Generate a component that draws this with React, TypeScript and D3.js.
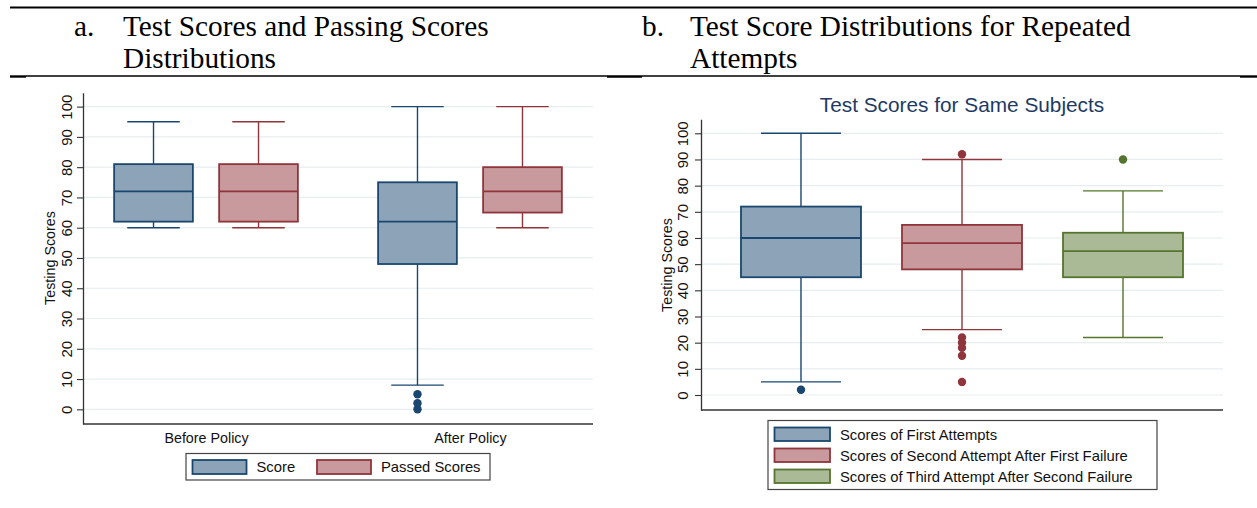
import React, { useEffect, useRef } from 'react';
import * as d3 from 'd3';

// panel a: before / after the policy
const policyGroups = ['Before Policy', 'After Policy'];
const policySeries = ['Score', 'Passed Scores'];
// lower whisker, q1, median, q3, upper whisker
const scoreBoxes = [[60, 62, 72, 81, 95], [8, 48, 62, 75, 100]];
const passedBoxes = [[60, 62, 72, 81, 95], [60, 65, 72, 80, 100]];
const scoreOutliers = [[], [5, 2, 0]];
const passedOutliers = [[], []];

// panel b: repeated attempts
const attemptSeries = [
  'Scores of First Attempts',
  'Scores of Second Attempt After First Failure',
  'Scores of Third Attempt After Second Failure',
];
const attemptBoxes = [[5, 45, 60, 72, 100], [25, 48, 58, 65, 90], [22, 45, 55, 62, 78]];
const attemptOutliers = [[2], [92, 22, 20, 18, 15, 5], [90]];

const scoreTicks = [0, 10, 20, 30, 40, 50, 60, 70, 80, 90, 100];

const strokes = ['#1a476f', '#90353b', '#55752f'];
const fills = ['#8da3b7', '#c89a9d', '#aaba97'];

const W = 1257;
const H = 508;
const sans = '"Liberation Sans", Arial, sans-serif';
const serif = '"Liberation Serif", "Times New Roman", serif';

function drawBox(g, cx, boxW, capW, s, outs, y, ci) {
  const [lo, q1, med, q3, hi] = s;
  const st = strokes[ci];
  const box = g.append('g').attr('stroke', st).attr('stroke-width', 1.4);
  box.append('line').attr('x1', cx).attr('x2', cx).attr('y1', y(q3)).attr('y2', y(hi));
  box.append('line').attr('x1', cx).attr('x2', cx).attr('y1', y(q1)).attr('y2', y(lo));
  box.append('line').attr('x1', cx - capW / 2).attr('x2', cx + capW / 2).attr('y1', y(hi)).attr('y2', y(hi));
  box.append('line').attr('x1', cx - capW / 2).attr('x2', cx + capW / 2).attr('y1', y(lo)).attr('y2', y(lo));
  box.append('rect')
    .attr('x', cx - boxW / 2)
    .attr('y', y(q3))
    .attr('width', boxW)
    .attr('height', y(q1) - y(q3))
    .attr('fill', fills[ci])
    .attr('stroke-width', 1.8);
  box.append('line').attr('x1', cx - boxW / 2).attr('x2', cx + boxW / 2).attr('y1', y(med)).attr('y2', y(med)).attr('stroke-width', 1.8);
  g.selectAll(null)
    .data(outs)
    .join('circle')
    .attr('cx', cx)
    .attr('cy', (d) => y(d))
    .attr('r', 4.2)
    .attr('fill', st);
}

function drawYAxis(svg, y, x0, x1, labelX, labelY) {
  // gridlines
  svg.append('g')
    .selectAll('line')
    .data(scoreTicks)
    .join('line')
    .attr('x1', x0 + 1)
    .attr('x2', x1)
    .attr('y1', (d) => y(d))
    .attr('y2', (d) => y(d))
    .attr('stroke', '#e6eef0')
    .attr('stroke-width', 1.2);

  const axis = svg.append('g')
    .attr('transform', `translate(${x0},0)`)
    .call(d3.axisLeft(y).tickValues(scoreTicks).tickSize(6).tickSizeOuter(0));
  axis.select('.domain').attr('stroke', '#333').attr('stroke-width', 1.3);
  axis.selectAll('.tick line').attr('stroke', '#333').attr('stroke-width', 1.1);
  axis.selectAll('.tick text')
    .attr('x', 0)
    .attr('dy', '0.35em')
    .attr('text-anchor', 'middle')
    .attr('transform', `translate(${labelX - x0},0) rotate(-90)`)
    .attr('font-family', sans)
    .attr('font-size', 15)
    .attr('fill', '#111');

  svg.append('text')
    .attr('transform', `translate(${labelY.x},${labelY.y}) rotate(-90)`)
    .attr('text-anchor', 'middle')
    .attr('dy', '0.35em')
    .attr('font-family', sans)
    .attr('font-size', 14.3)
    .attr('fill', '#111')
    .text('Testing Scores');
}

function App() {
  const svgRef = useRef(null);

  useEffect(() => {
    const svg = d3.select(svgRef.current);
    svg.selectAll('*').remove();
    svg.append('rect').attr('width', W).attr('height', H).attr('fill', '#fff');

    // table-like header
    const head = svg.append('g');
    head.append('line').attr('x1', 10).attr('x2', W).attr('y1', 7.5).attr('y2', 7.5).attr('stroke', '#000').attr('stroke-width', 2.2);
    [[26, 607], [642, 1240]].forEach(([a, b]) => {
      head.append('line').attr('x1', a).attr('x2', b).attr('y1', 76).attr('y2', 76).attr('stroke', '#000').attr('stroke-width', 1.3);
    });
    [[10, 26], [607, 642], [1240, W]].forEach(([a, b]) => {
      head.append('line').attr('x1', a).attr('x2', b).attr('y1', 76.5).attr('y2', 76.5).attr('stroke', '#000').attr('stroke-width', 2.4);
    });
    const headText = head.append('g').attr('font-family', serif).attr('font-size', 29.3).attr('fill', '#000');
    headText.append('text').attr('x', 74).attr('y', 36).text('a.');
    headText.append('text').attr('x', 123).attr('y', 36).text('Test Scores and Passing Scores');
    headText.append('text').attr('x', 123).attr('y', 68).text('Distributions');
    headText.append('text').attr('x', 642).attr('y', 36).text('b.');
    headText.append('text').attr('x', 690).attr('y', 36).text('Test Score Distributions for Repeated');
    headText.append('text').attr('x', 690).attr('y', 68).text('Attempts');

    // ---- panel a ----
    const ya = d3.scaleLinear().domain([-4.85, 104.6]).range([424, 92.7]);
    const xa = d3.scalePoint().domain(policyGroups).range([83, 593]).padding(0.466);
    const sa = d3.scaleBand().domain(policySeries).range([-105, 105]);
    drawYAxis(svg, ya, 83, 593, 67, { x: 50, y: 258 });

    const pa = svg.append('g');
    policyGroups.forEach((grp, i) => {
      [scoreBoxes, passedBoxes].forEach((boxes, j) => {
        const outs = [scoreOutliers, passedOutliers][j][i];
        const cx = xa(grp) + sa(policySeries[j]) + sa.bandwidth() / 2;
        drawBox(pa, cx, sa.bandwidth() * 0.75, sa.bandwidth() * 0.5, boxes[i], outs, ya, j);
      });
    });

    const xAxisA = svg.append('g')
      .attr('transform', 'translate(0,424)')
      .call(d3.axisBottom(xa).tickSize(0).tickSizeOuter(0).tickPadding(9));
    xAxisA.select('.domain').attr('stroke', '#333').attr('stroke-width', 1.3).attr('d', 'M83,0H593');
    xAxisA.selectAll('.tick text').attr('font-family', sans).attr('font-size', 14.3).attr('fill', '#111');

    // legend a
    const la = svg.append('g');
    la.append('rect').attr('x', 186).attr('y', 453.5).attr('width', 304).attr('height', 26.5)
      .attr('fill', '#fff').attr('stroke', '#444').attr('stroke-width', 1.2);
    const legX = [192.5, 317];
    policySeries.forEach((name, j) => {
      la.append('rect').attr('x', legX[j]).attr('y', 460).attr('width', 54).attr('height', 14)
        .attr('fill', fills[j]).attr('stroke', strokes[j]).attr('stroke-width', 1.8);
      la.append('text').attr('x', legX[j] + 64).attr('y', 467).attr('dy', '0.35em')
        .attr('font-family', sans).attr('font-size', 14.8).attr('fill', '#111').text(name);
    });

    // ---- panel b ----
    const yb = d3.scaleLinear().domain([-5.73, 105.35]).range([410, 119.3]);
    const xb = d3.scalePoint().domain(attemptSeries).range([701, 1223]).padding(0.621);
    drawYAxis(svg, yb, 701, 1223, 683, { x: 667, y: 265 });

    svg.append('text')
      .attr('x', 962).attr('y', 112)
      .attr('text-anchor', 'middle')
      .attr('font-family', sans).attr('font-size', 20.8)
      .attr('fill', '#1e3a64')
      .text('Test Scores for Same Subjects');

    const pb = svg.append('g');
    attemptSeries.forEach((name, j) => {
      drawBox(pb, xb(name), 120, 80, attemptBoxes[j], attemptOutliers[j], yb, j);
    });

    svg.append('line').attr('x1', 701).attr('x2', 1223).attr('y1', 410).attr('y2', 410)
      .attr('stroke', '#333').attr('stroke-width', 1.3);

    // legend b
    const lb = svg.append('g');
    lb.append('rect').attr('x', 768).attr('y', 420.5).attr('width', 389).attr('height', 69)
      .attr('fill', '#fff').attr('stroke', '#444').attr('stroke-width', 1.2);
    attemptSeries.forEach((name, j) => {
      const top = 427.5 + j * 21;
      lb.append('rect').attr('x', 774.5).attr('y', top).attr('width', 55.5).attr('height', 13.5)
        .attr('fill', fills[j]).attr('stroke', strokes[j]).attr('stroke-width', 1.8);
      lb.append('text').attr('x', 840).attr('y', top + 7).attr('dy', '0.35em')
        .attr('font-family', sans).attr('font-size', 14.8).attr('fill', '#111').text(name);
    });
  }, []);

  return (
    <svg ref={svgRef} width={W} height={H} style={{ position: 'absolute', left: 0, top: 0 }} />
  );
}

export default App;
